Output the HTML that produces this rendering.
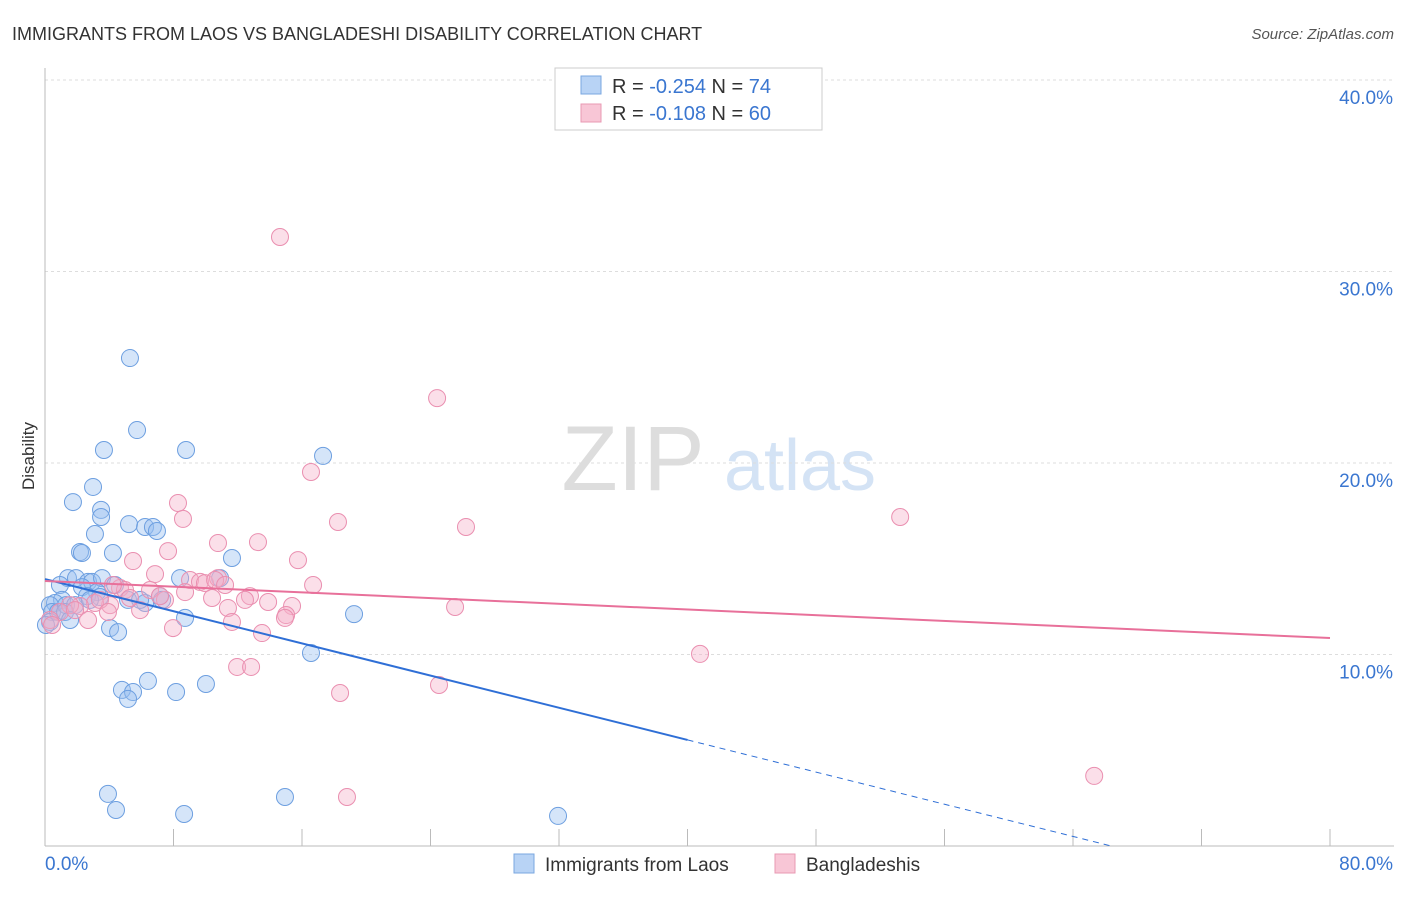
<!DOCTYPE html>
<html><head><meta charset="utf-8"><style>
body{margin:0;background:#fff;font-family:"Liberation Sans",sans-serif;}
svg text{font-family:"Liberation Sans",sans-serif;}
</style></head><body>
<svg id="chart" width="1406" height="892" xmlns="http://www.w3.org/2000/svg">
<text x="12" y="40" font-size="18" fill="#333">IMMIGRANTS FROM LAOS VS BANGLADESHI DISABILITY CORRELATION CHART</text>
<text x="1394" y="39" font-size="15" fill="#555" font-style="italic" text-anchor="end">Source: ZipAtlas.com</text>
<text x="34" y="456" font-size="17" fill="#333" transform="rotate(-90 34 456)" text-anchor="middle">Disability</text>
<g>
<text x="633" y="490" font-size="92" fill="#ddd" text-anchor="middle" font-family="Liberation Serif">ZIP</text>
<text x="800" y="490" font-size="72" fill="#d4e3f5" text-anchor="middle">atlas</text>
</g>
<g id="grid"></g><g id="axes"></g><g id="pts"></g><g id="lines"></g>
<g>
<rect x="555" y="68" width="267" height="62" fill="#fff" stroke="#ccc"/>
<rect x="581" y="76" width="20" height="18" fill="#b8d3f5" stroke="#7aa7e0"/>
<rect x="581" y="104" width="20" height="18" fill="#f8c6d6" stroke="#e899b3"/>
<text x="612" y="93" font-size="20" fill="#333">R = <tspan fill="#3a76d0">-0.254</tspan>   N = <tspan fill="#3a76d0">74</tspan></text>
<text x="612" y="120" font-size="20" fill="#333">R = <tspan fill="#3a76d0"> -0.108</tspan>   N = <tspan fill="#3a76d0">60</tspan></text>
</g>
<g>
<rect x="514" y="854" width="20" height="19" fill="#b8d3f5" stroke="#7aa7e0"/>
<text x="545" y="871" font-size="19" fill="#333">Immigrants from Laos</text>
<rect x="775" y="854" width="20" height="19" fill="#f8c6d6" stroke="#e899b3"/>
<text x="806" y="871" font-size="19" fill="#333">Bangladeshis</text>
</g>
</svg>
<script>
const yTicks=[10,20,30,40];
const yTickLabels=["10.0%","20.0%","30.0%","40.0%"];
const xTicks=[0,8,16,24,32,40,48,56,64,72,80];
const xEndLabels=["0.0%","80.0%"];
const laosX=[5.29,5.73,3.67,8.78,17.31,2.99,1.74,3.49,3.49,5.23,6.23,6.72,6.97,3.11,2.18,2.30,4.23,11.64,1.43,1.93,2.68,2.93,3.55,4.36,8.41,10.90,0.93,2.30,3.24,2.62,1.06,0.62,0.31,0.44,0.81,1.31,1.87,3.42,5.17,6.23,7.16,8.72,4.05,4.55,0.31,0.06,16.56,19.24,6.41,4.79,5.48,5.17,8.16,10.02,3.92,4.42,8.66,14.94,31.94,1.25,2.80,1.56,5.92,7.29];
const laosY=[25.48,21.72,20.68,20.68,20.37,18.75,17.96,17.55,17.18,16.81,16.66,16.66,16.45,16.29,15.35,15.30,15.30,15.04,13.99,13.99,13.79,13.79,13.99,13.63,13.99,13.99,13.63,13.52,13.26,13.05,12.85,12.69,12.58,12.22,12.22,12.58,12.58,13.00,12.85,12.69,13.05,11.91,11.38,11.17,11.70,11.54,10.08,12.11,8.62,8.15,8.04,7.68,8.04,8.46,2.72,1.88,1.67,2.56,1.57,12.22,12.85,11.80,12.85,12.85];
const bangX=[14.63,24.41,16.56,8.28,8.59,18.24,26.21,53.24,10.77,13.26,7.66,15.75,5.48,6.85,9.03,9.65,9.96,16.69,10.77,12.76,4.67,4.98,6.54,7.47,10.40,11.39,13.89,15.38,15.01,11.64,5.92,4.05,3.11,2.18,1.56,0.93,0.31,2.68,7.97,13.51,11.96,12.83,25.53,40.78,18.37,24.53,18.80,65.32,4.23,8.72,1.87,3.42,5.29,7.16,14.94,0.44,10.59,3.92,11.21,12.45];
const bangY=[31.80,23.39,19.53,17.91,17.08,16.92,16.66,17.18,15.82,15.87,15.40,14.93,14.88,14.20,13.89,13.79,13.73,13.63,13.99,13.05,13.47,13.37,13.37,12.85,12.95,12.43,12.74,12.53,12.06,11.70,12.32,12.58,12.69,12.53,12.58,12.22,11.80,11.80,11.38,11.12,9.35,9.35,12.48,10.03,7.99,8.41,2.56,3.66,13.63,13.26,12.32,12.85,12.95,13.05,11.91,11.54,13.89,12.22,13.63,12.85];
const laosTrend=[13.94,-0.21];
const bangTrend=[13.84,10.86];
const NS="http://www.w3.org/2000/svg";
const X=v=>45+v*16.0625, Y=v=>846-v*19.15;
function mk(tag,attrs,parent){const e=document.createElementNS(NS,tag);for(const k in attrs)e.setAttribute(k,attrs[k]);document.getElementById(parent).appendChild(e);return e;}
yTicks.forEach((t,i)=>{
 const g=mk('line',{x1:45,x2:1394,y1:Y(t),y2:Y(t),stroke:'#ddd','stroke-dasharray':'3,3'},'grid');
 
 
 const l=mk('text',{x:1393,y:Y(t)+24,'font-size':19,fill:'#3a76d0','text-anchor':'end'},'axes');
 l.textContent=yTickLabels[i];
 
 
});
const ax=mk('line',{x1:45,x2:45,y1:68,y2:846,stroke:'#bbb'},'axes');


const bx=mk('line',{x1:45,x2:1394,y1:846,y2:846,stroke:'#bbb'},'axes');


xTicks.forEach(t=>{
 const tk=mk('line',{x1:X(t),x2:X(t),y1:829,y2:846,stroke:'#bbb'},'axes');
 
 
});
[0,80].forEach((t,i)=>{
 const l=mk('text',{x:i?1393:45,y:870,'font-size':19,fill:'#3a76d0','text-anchor':i?'end':'start'},'axes');
 l.textContent=xEndLabels[i];
 
 
});
laosX.forEach((x,i)=>{
 const c=mk('circle',{cx:X(x),cy:Y(laosY[i]),r:8.5,fill:'rgba(150,190,240,0.4)',stroke:'#6d9fe0','stroke-width':1},'pts');
 
 
});
bangX.forEach((x,i)=>{
 const c=mk('circle',{cx:X(x),cy:Y(bangY[i]),r:8.5,fill:'rgba(245,175,200,0.4)',stroke:'#ea8fb0','stroke-width':1},'pts');
 
 
});
const lb=mk('line',{x1:X(0),y1:Y(laosTrend[0]),x2:X(40),y2:Y(laosTrend[0]+laosTrend[1]*40),stroke:'#2f6fd6','stroke-width':2},'lines');


const xEnd=-laosTrend[0]/laosTrend[1];
const ld=mk('line',{x1:X(40),y1:Y(laosTrend[0]+laosTrend[1]*40),x2:X(xEnd),y2:Y(0),stroke:'#2f6fd6','stroke-width':1,'stroke-dasharray':'6,5'},'lines');


const lp=mk('line',{x1:X(0),y1:Y(bangTrend[0]),x2:X(80),y2:Y(bangTrend[1]),stroke:'#e8709a','stroke-width':2},'lines');


</script>
</body></html>
